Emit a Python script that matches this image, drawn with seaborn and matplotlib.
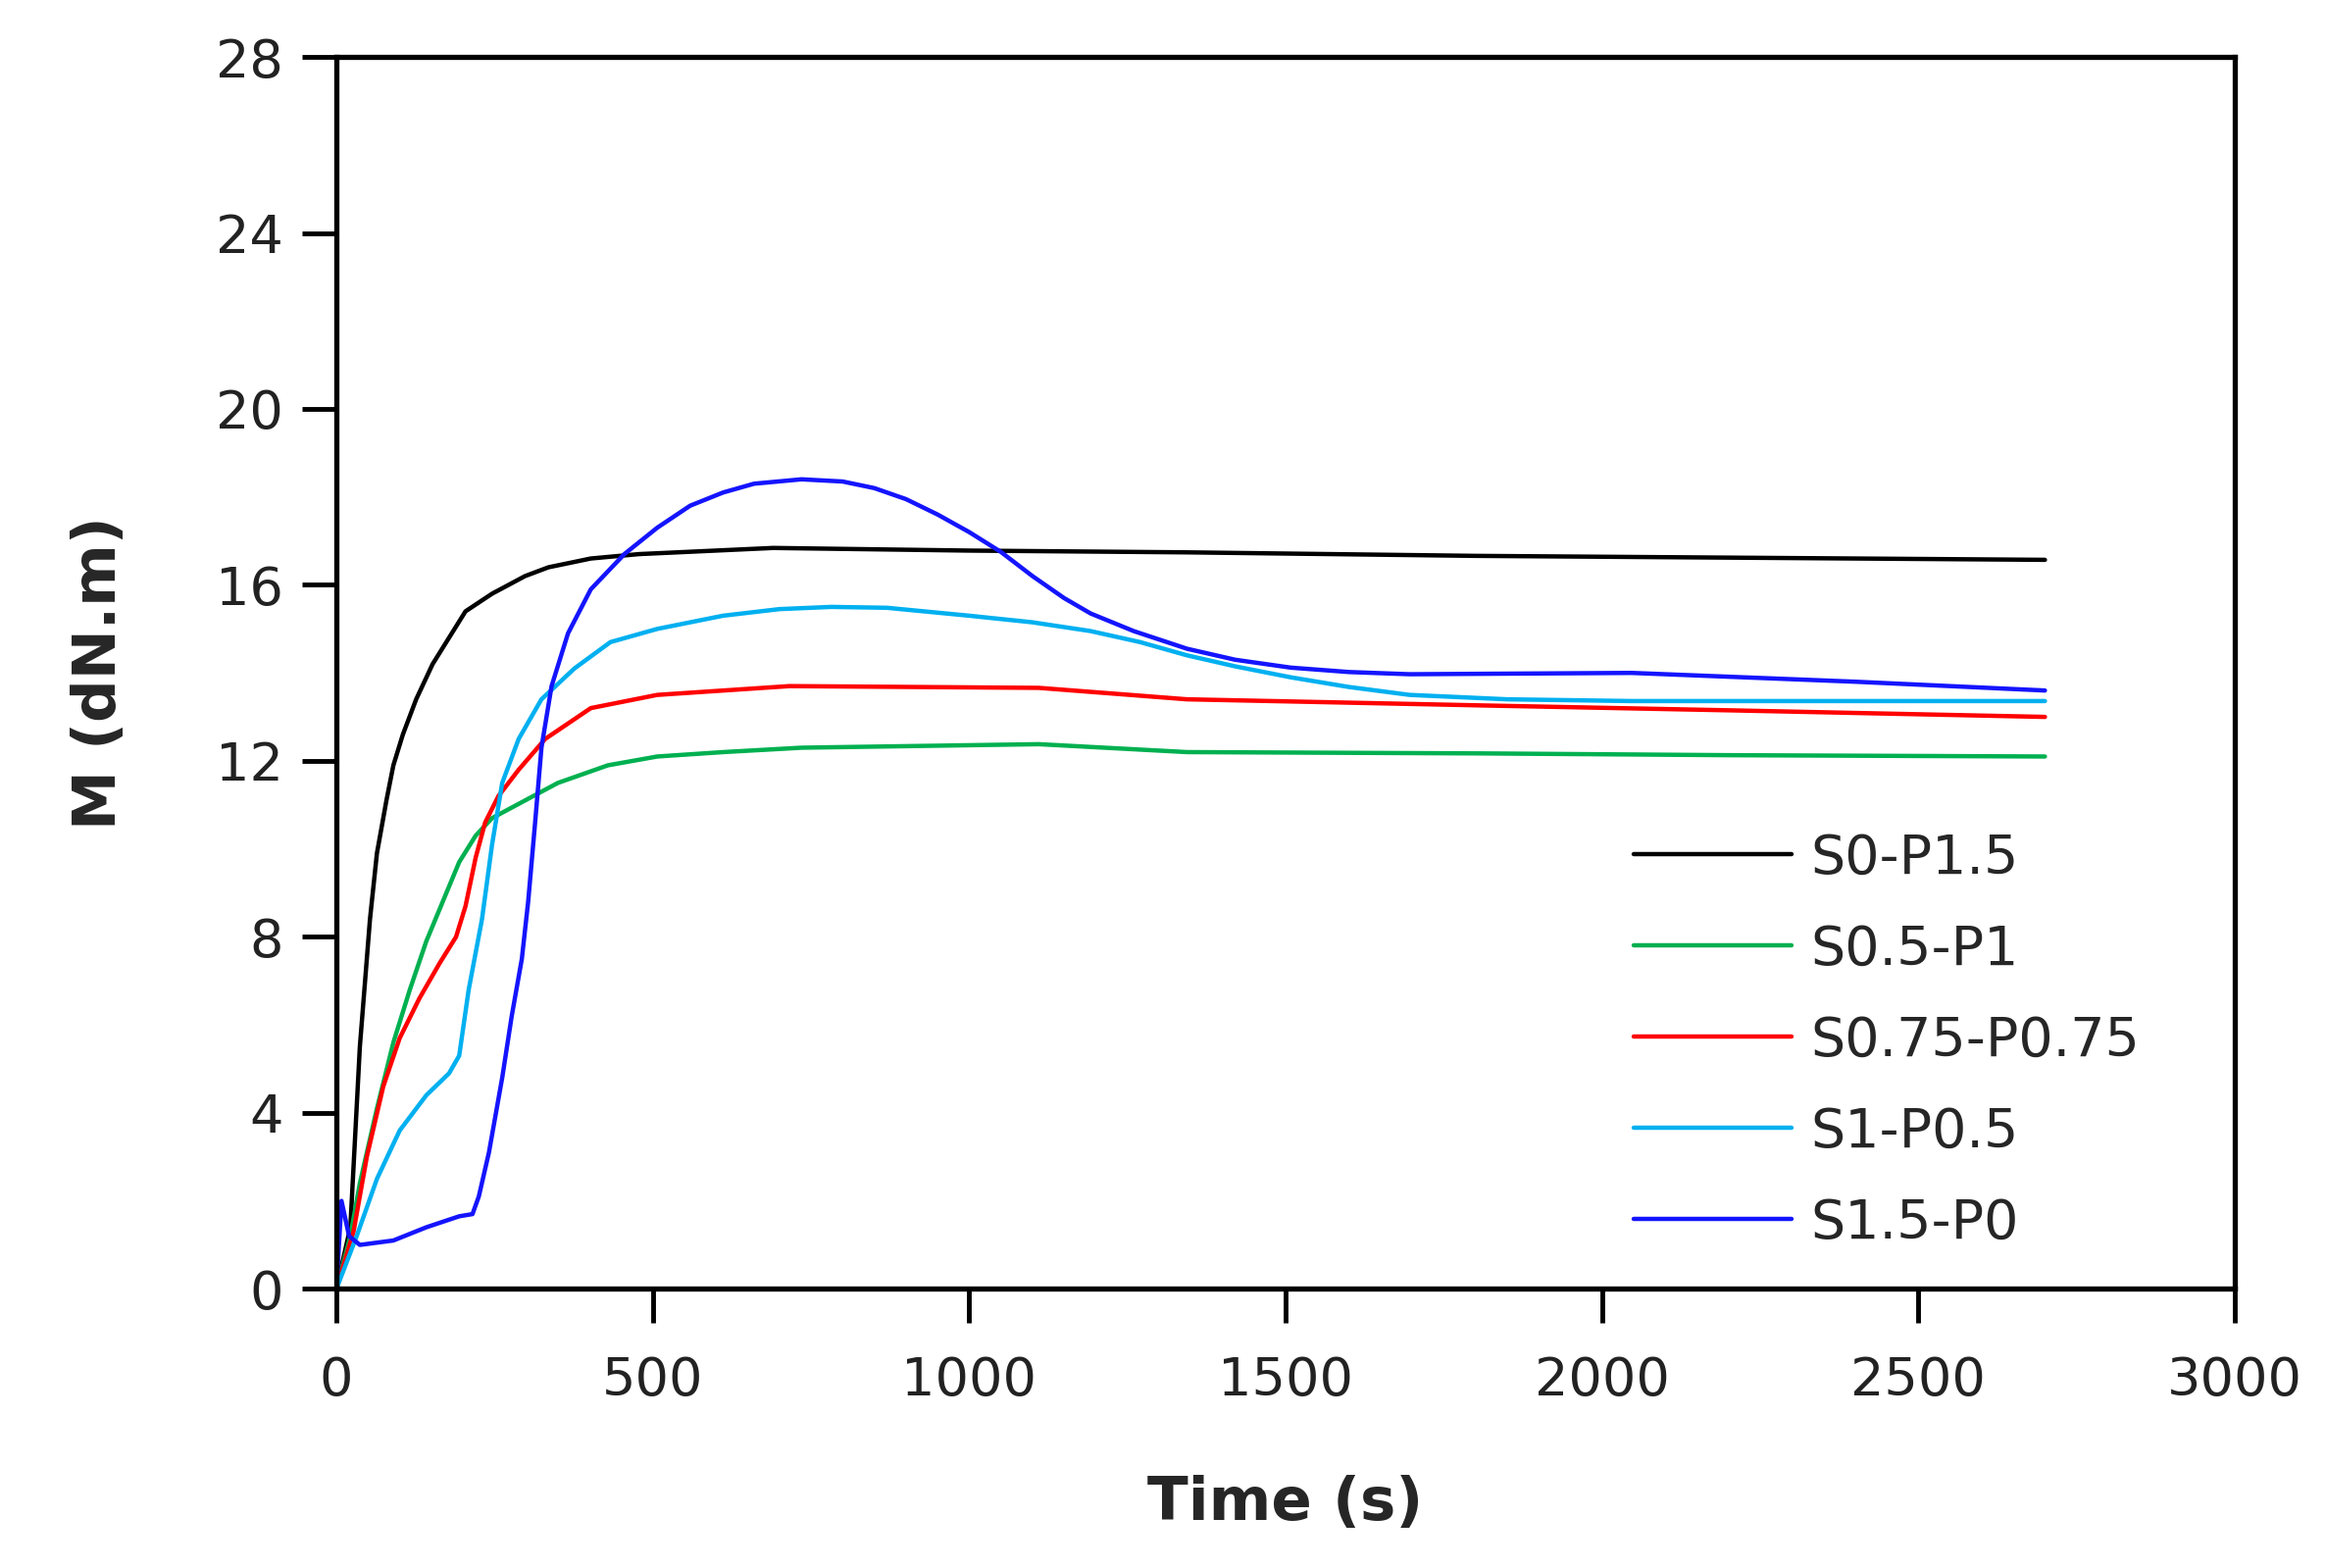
import pandas as pd
import numpy as np
import seaborn as sns
import matplotlib.pyplot as plt

# curves (time in s, torque in dN.m)
t_s0 = [0, 22, 37, 53, 64, 79, 90, 105, 126, 152, 178, 204, 246, 298, 335, 402, 478, 690, 1000, 1344, 1800, 2200, 2700]
m_s0 = [0, 1.4, 5.5, 8.4, 9.9, 11.1, 11.9, 12.6, 13.4, 14.2, 14.8, 15.4, 15.8, 16.2, 16.4, 16.6, 16.7, 16.84, 16.78, 16.74, 16.66, 16.62, 16.57]

t_s05 = [0, 22, 37, 64, 90, 116, 142, 168, 194, 220, 246, 298, 350, 429, 507, 611, 735, 1110, 1344, 1813, 2200, 2700]
m_s05 = [0, 1.2, 2.4, 4.1, 5.6, 6.8, 7.9, 8.8, 9.7, 10.3, 10.7, 11.1, 11.5, 11.9, 12.1, 12.2, 12.3, 12.38, 12.2, 12.17, 12.13, 12.1]

t_s075 = [0, 27, 48, 74, 100, 131, 163, 189, 204, 220, 235, 256, 288, 330, 402, 507, 716, 1110, 1344, 1813, 2200, 2700]
m_s075 = [0, 1.3, 3.0, 4.6, 5.7, 6.6, 7.4, 8.0, 8.7, 9.8, 10.6, 11.2, 11.8, 12.5, 13.2, 13.5, 13.7, 13.66, 13.4, 13.26, 13.15, 13.0]

t_s1 = [0, 32, 64, 100, 142, 178, 194, 209, 230, 246, 262, 288, 324, 376, 433, 507, 611, 700, 782, 870, 1000, 1100, 1192, 1270, 1344, 1420, 1508, 1600, 1696, 1850, 2047, 2400, 2700]
m_s1 = [0, 1.2, 2.5, 3.6, 4.4, 4.9, 5.3, 6.8, 8.4, 10.1, 11.5, 12.5, 13.4, 14.1, 14.7, 15.0, 15.3, 15.45, 15.5, 15.48, 15.3, 15.15, 14.95, 14.7, 14.4, 14.15, 13.9, 13.68, 13.5, 13.4, 13.36, 13.36, 13.36]

t_s15 = [0, 8, 20, 37, 90, 142, 194, 215, 225, 241, 262, 277, 293, 303, 314, 324, 340, 366, 402, 455, 507, 559, 611, 660, 735, 800, 850, 900, 950, 1000, 1050, 1100, 1150, 1192, 1260, 1344, 1420, 1508, 1600, 1696, 2047, 2400, 2700]
m_s15 = [0, 2.0, 1.2, 1.0, 1.1, 1.4, 1.65, 1.7, 2.1, 3.1, 4.8, 6.2, 7.5, 8.8, 10.6, 12.3, 13.7, 14.9, 15.9, 16.7, 17.3, 17.8, 18.1, 18.3, 18.4, 18.35, 18.2, 17.95, 17.6, 17.2, 16.75, 16.2, 15.7, 15.35, 14.95, 14.55, 14.3, 14.12, 14.02, 13.97, 14.0, 13.8, 13.6]

names = ["S0-P1.5", "S0.5-P1", "S0.75-P0.75", "S1-P0.5", "S1.5-P0"]
colors = ["#000000", "#00B050", "#FF0000", "#00B0F0", "#1414FF"]

frames = []
for name, t, m in zip(names, [t_s0, t_s05, t_s075, t_s1, t_s15], [m_s0, m_s05, m_s075, m_s1, m_s15]):
    frames.append(pd.DataFrame({"Time": t, "M": m, "mix": name}))
df = pd.concat(frames, ignore_index=True)

sns.set_style("white")
plt.rcParams['font.family'] = ['DejaVu Sans']

fig = plt.figure(figsize=(23.71, 15.99), dpi=100)
ax = fig.add_axes([0.1447, 0.178, 0.8165, 0.7857])

sns.lineplot(data=df, x="Time", y="M", hue="mix", palette=colors, sort=False,
             estimator=None, linewidth=3.2, ax=ax)

ax.set_xlim(0, 3000)
ax.set_ylim(0, 28)
ax.set_xticks(np.arange(0, 3001, 500))
ax.set_yticks(np.arange(0, 29, 4))
ax.tick_params(axis="both", direction="out", length=25, width=3.5, labelsize=39,
               left=True, bottom=True, colors="black", labelcolor="#222222")
ax.tick_params(axis="y", pad=14)
ax.tick_params(axis="x", pad=24)
for s in ax.spines.values():
    s.set_color("black")
    s.set_linewidth(3.8)

ax.set_xlabel("Time (s)", fontsize=44, fontweight="bold", labelpad=50)
ax.set_ylabel("M (dN.m)", fontsize=44, fontweight="bold", labelpad=64)

leg = ax.legend(loc="lower right", bbox_to_anchor=(0.976, -0.008), frameon=False, fontsize=40,
                handlelength=2.9, handletextpad=0.35, labelspacing=0.7)
for line in leg.get_lines():
    line.set_linewidth(3.2)

fig.savefig("out.png", dpi=100)
